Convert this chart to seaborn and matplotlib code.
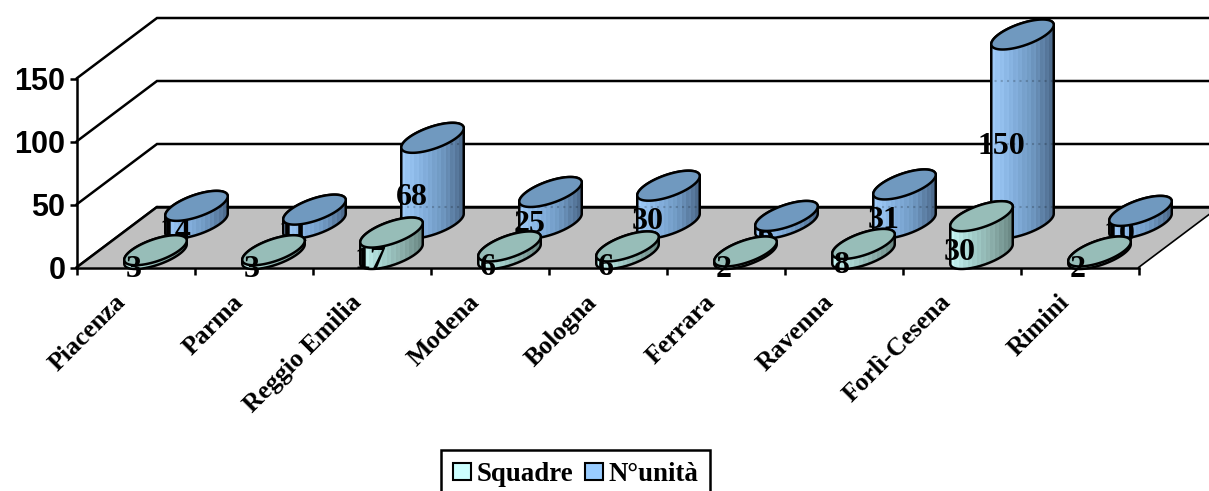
"""plot.py - 3D style cylinder chart of Squadre and N° unità by province."""

import matplotlib
matplotlib.use("Agg")
import matplotlib.pyplot as plt
import numpy as np
import pandas as pd
import seaborn as sns
from matplotlib.colors import LinearSegmentedColormap
from matplotlib.patches import Patch, Polygon
from matplotlib.transforms import ScaledTranslation

PROVINCES = ["Piacenza", "Parma", "Reggio Emilia", "Modena", "Bologna",
             "Ferrara", "Ravenna", "Forlì-Cesena", "Rimini"]
SQUADRE = [3, 3, 17, 6, 6, 2, 8, 30, 2]
UNITA = [14, 11, 68, 25, 30, 6, 31, 150, 10]
Y_TICKS = [0, 50, 100, 150]

W, H = 1209, 491
PX_X = 118.0   # pixels per category
PX_Y = 1.26    # pixels per value unit
X0, Y0 = 76.5, 267.5  # pixel position of the chart origin
LW = 1.8


def px(dx, dy):
    return dx / PX_X, dy / PX_Y


DEPTH_X, DEPTH_Y = px(80.5, 60.5)
ELL_A = 24.0 / PX_X
ELL_BX = 20.0 / PX_X
ELL_BY = 15.0 / PX_Y
T0 = np.arctan2(ELL_BX, ELL_A)

BACK_CMAP = LinearSegmentedColormap.from_list(
    "back", ["#A0CCFA", "#86B2E0", "#7099C2", "#4E6C8E"])
FRONT_CMAP = LinearSegmentedColormap.from_list(
    "front", ["#C8F6F4", "#A6D2CE", "#8DB0AC", "#6C8A86"])


def ellipse(cx, cy, t):
    return (cx + ELL_A * np.cos(t) + ELL_BX * np.sin(t), cy + ELL_BY * np.sin(t))


def cylinder(ax, cx, base, height, cmap, cap_color, z, patch):
    top = base + height
    lower = np.linspace(T0 + np.pi, T0 + 2 * np.pi, 60)
    upper = np.linspace(T0, T0 + np.pi, 60)
    bx, by = ellipse(cx, base, lower)
    tx, ty = ellipse(cx, top, upper)
    hull = Polygon(np.column_stack([np.r_[bx, tx], np.r_[by, ty]]), closed=True,
                   fc="none", ec="black", lw=LW, zorder=z + 0.2, joinstyle="round")
    ax.add_patch(hull)

    # the bar from seaborn, moved back in depth and cut to the cylinder outline
    patch.set_x(cx - patch.get_width() / 2)
    patch.set_y(base)
    patch.set_zorder(z - 0.1)
    patch.set_linewidth(0)
    patch.set_clip_path(hull)

    # banded shading across the body
    bands = np.linspace(0, 1, 28)
    bands = bands + 0.03 * (-1.0) ** np.arange(28)
    half = np.hypot(ELL_A, ELL_BX)
    im = ax.imshow(bands[None, :], cmap=cmap, vmin=0, vmax=1, aspect="auto",
                   extent=[cx - half, cx + half, base - ELL_BY, top + ELL_BY],
                   zorder=z, interpolation="nearest")
    im.set_clip_path(hull)

    capx, capy = ellipse(cx, top, np.linspace(0, 2 * np.pi, 120))
    ax.add_patch(Polygon(np.column_stack([capx, capy]), closed=True, fc=cap_color,
                         ec="black", lw=LW, zorder=z + 0.6))
    return hull


def main():
    sns.set_style("white")
    plt.rcParams["font.family"] = ["Liberation Serif", "DejaVu Serif"]

    fig = plt.figure(figsize=(W / 100, H / 100), dpi=100)
    ax = fig.add_axes([0, 0, 1, 1])
    ax.patch.set_alpha(0)

    df = pd.DataFrame({"provincia": PROVINCES, "squadre": SQUADRE, "unita": UNITA})
    bar_w = 64.0 / PX_X
    sns.barplot(data=df, x="provincia", y="unita", order=PROVINCES, color="#86B2E0",
                saturation=1, width=bar_w, ax=ax)
    n_back = len(ax.patches)
    sns.barplot(data=df, x="provincia", y="squadre", order=PROVINCES, color="#A6D2CE",
                saturation=1, width=bar_w, ax=ax)
    patches = list(ax.patches)

    xmin = -0.5
    xmax = xmin + len(PROVINCES)

    # walls and floor
    for v in Y_TICKS:
        ax.plot([xmin, xmin + DEPTH_X, xmax + DEPTH_X + 1],
                [v, v + DEPTH_Y, v + DEPTH_Y], color="black", lw=LW, zorder=1,
                solid_joinstyle="miter")
    ax.fill([xmin, xmax, xmax + DEPTH_X, xmin + DEPTH_X],
            [0, 0, DEPTH_Y, DEPTH_Y], fc="#C0C0C0", ec="none", zorder=1.1)
    ax.plot([xmin + DEPTH_X, xmax + DEPTH_X + 1], [DEPTH_Y, DEPTH_Y],
            color="black", lw=LW, zorder=1.2)
    ax.plot([xmin, xmin + DEPTH_X], [0, DEPTH_Y], color="black", lw=LW, zorder=1.2)
    ax.plot([xmax, xmax + DEPTH_X], [0, DEPTH_Y], color="black", lw=1.2, zorder=1.2)

    # back series
    back_dx, back_dy = px(61, 44)
    for i, v in enumerate(UNITA):
        hull = cylinder(ax, i + back_dx, back_dy, v, BACK_CMAP, "#7099BF", 3 + i * 0.01,
                        patches[i])
        # gridlines show faintly through the body
        for g in Y_TICKS:
            ln, = ax.plot([xmin + DEPTH_X, xmax + DEPTH_X],
                          [g + DEPTH_Y, g + DEPTH_Y], color="black", lw=1.5,
                          ls=(0, (1, 2)), alpha=0.2, zorder=3.3)
            ln.set_clip_path(hull)
        ax.text(i + px(40, 0)[0], v / 2 + px(0, 27)[1], str(v), ha="center", va="center",
                fontsize=23, fontweight="bold", color="black", zorder=3.4)

    # front series
    front_dx, front_dy = px(20, 13.5)
    for i, v in enumerate(SQUADRE):
        cylinder(ax, i + front_dx, front_dy, v, FRONT_CMAP, "#97BDB8", 5 + i * 0.01,
                 patches[n_back + i])
        # short bars have their label over the cap, the taller ones under it
        z = 5.5 if v >= 10 else 6.5
        ax.text(i - px(1.5, 0)[0], v / 2 - px(0, 3.5)[1], str(v), ha="center", va="center",
                fontsize=23, fontweight="bold", color="black", zorder=z)

    # axes
    left = xmin - X0 / PX_X
    bottom = -(H - Y0) / PX_Y
    ax.set_xlim(left, left + W / PX_X)
    ax.set_ylim(bottom, bottom + H / PX_Y)
    for side in ("top", "right"):
        ax.spines[side].set_visible(False)
    ax.spines["left"].set_position(("data", xmin))
    ax.spines["bottom"].set_position(("data", 0))
    ax.spines["left"].set_bounds(0, 150)
    ax.spines["bottom"].set_bounds(xmin, xmax)
    for side in ("left", "bottom"):
        ax.spines[side].set_linewidth(LW)
        ax.spines[side].set_color("black")
        ax.spines[side].set_zorder(2)

    ax.set_xlabel("")
    ax.set_ylabel("")
    ax.set_yticks(Y_TICKS)
    ax.set_yticklabels(Y_TICKS, fontsize=22, fontweight="bold",
                       family=["Liberation Sans", "DejaVu Sans"])
    ax.tick_params(axis="y", left=True, length=5, width=LW, pad=3, color="black",
                   labelcolor="black")

    ax.set_xticks(np.arange(len(PROVINCES)))
    ax.set_xticklabels(PROVINCES, rotation=45, ha="right", rotation_mode="anchor",
                       fontsize=18.5, fontweight="bold")
    ax.tick_params(axis="x", bottom=False, pad=13, labelcolor="black")
    shift = ScaledTranslation(-0.22, 0, fig.dpi_scale_trans)
    for lab in ax.get_xticklabels():
        lab.set_transform(lab.get_transform() + shift)
    ax.set_xticks(np.arange(len(PROVINCES) + 1) - 0.5, minor=True)
    ax.tick_params(axis="x", which="minor", bottom=True, length=5, width=LW, color="black")

    handles = [Patch(fc="#CCFFFF", ec="black", lw=1.5, label="Squadre"),
               Patch(fc="#99CCFF", ec="black", lw=1.5, label="N°unità")]
    leg = fig.legend(handles=handles, loc="upper left", ncol=2,
                     bbox_to_anchor=(441 / W, 1 - 450 / H),
                     prop={"family": "Liberation Serif", "weight": "bold", "size": 19.4},
                     labelcolor="black",
                     frameon=True, fancybox=False, framealpha=1, edgecolor="black",
                     handlelength=0.667, handleheight=0.63, handletextpad=0.19,
                     columnspacing=0.45, borderpad=0.45, borderaxespad=0)
    leg.get_frame().set_linewidth(LW)

    fig.savefig("out.png", dpi=100)
    plt.close(fig)


if __name__ == "__main__":
    main()
